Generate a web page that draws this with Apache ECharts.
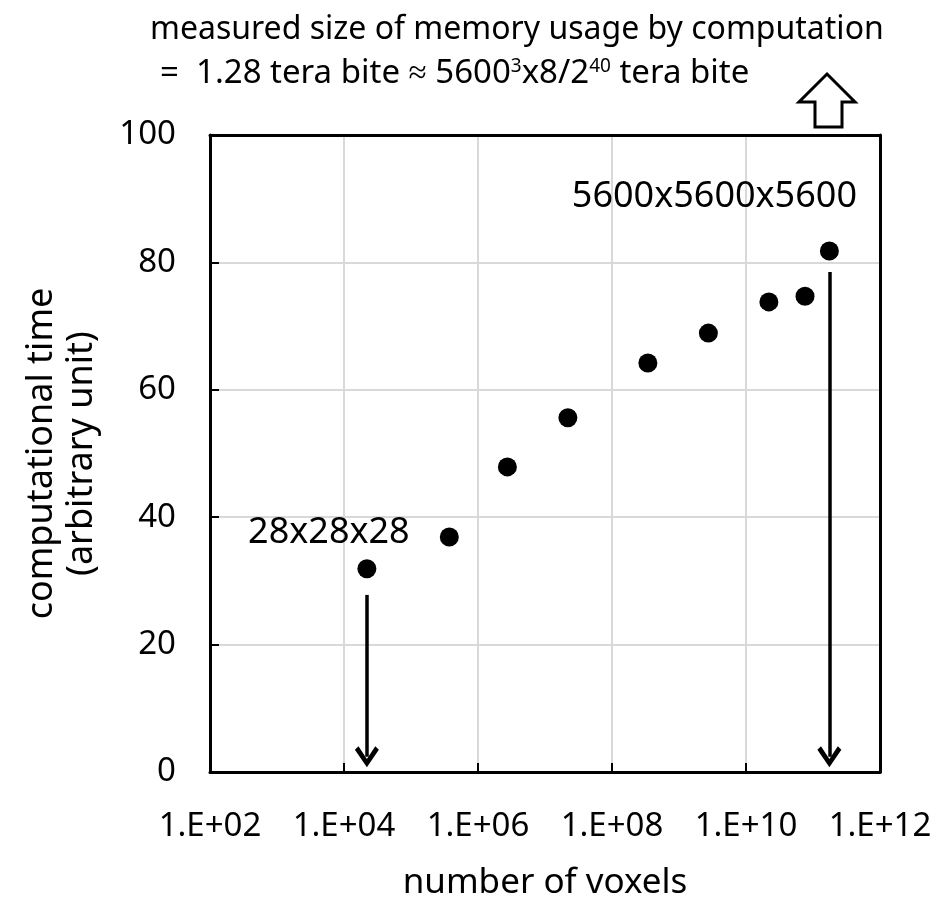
<!DOCTYPE html>
<html>
  <head>
    <meta charset="utf-8" />
    <title>ECharts</title>
    <style type="text/css">
      html, body { margin: 0; padding: 0; background: #fff; }
      #main { width: 939px; height: 914px; }
    </style>
    <script type="text/javascript" src="https://cdn.jsdelivr.net/npm/echarts@6/dist/echarts.min.js"></script>
  </head>
  <body>
    <div id="main"></div>
    <script type="text/javascript">
    // grid sizes (voxels per edge) and measured values
    var gridLabels = ['28x28x28', '', '', '', '', '', '', '', '5600x5600x5600'];
    var voxels = [21952, 373248, 2744000, 21952000, 343000000, 2744000000, 21952000000, 76000000000, 175616000000];
    var compTime = [31.9, 36.9, 47.9, 55.6, 64.2, 68.9, 73.8, 74.7, 81.8];
    var xTicks = [1e2, 1e4, 1e6, 1e8, 1e10, 1e12];
    var yTicks = [0, 20, 40, 60, 80, 100];

    var FONT = 'Noto Sans';

    var dom = document.getElementById('main');
    var myChart = echarts.init(dom);

    var points = [];
    for (var i = 0; i < voxels.length; i++) {
      points.push([voxels[i], compTime[i]]);
    }

    // open V arrowhead (tip up, markLine rotates it)
    var vHead = 'path://M10,0 L20,15 L17,18 L10,7 L3,18 L0,15 Z';

    var frameAxis = {
      show: true,
      axisLine: { onZero: false, lineStyle: { color: '#000', width: 3 } },
      axisTick: { show: false },
      axisLabel: { show: false },
      splitLine: { show: false }
    };

    var option = {
      animation: false,
      textStyle: { fontFamily: FONT },
      grid: {
        left: 210, right: 59, top: 135, bottom: 142
      },
      xAxis: [{
        type: 'log',
        logBase: 10,
        min: xTicks[0],
        max: xTicks[xTicks.length - 1],
        interval: 2,
        name: 'number of voxels',
        nameLocation: 'middle',
        nameGap: 94,
        nameTextStyle: { fontSize: 35, color: '#000' },
        axisLine: { lineStyle: { color: '#000', width: 3 } },
        axisTick: { inside: true, length: 9, lineStyle: { color: '#000', width: 2 } },
        axisLabel: {
          fontSize: 33, color: '#000', margin: 38,
          formatter: function (v) {
            var e = Math.round(Math.log10(v));
            return '1.E+' + (e < 10 ? '0' + e : e);
          }
        },
        splitLine: { show: true, lineStyle: { color: '#d9d9d9', width: 2 } },
        minorTick: { show: false }
      }, Object.assign({
        type: 'log', logBase: 10, position: 'top',
        min: xTicks[0], max: xTicks[xTicks.length - 1], interval: 2
      }, frameAxis)],
      yAxis: [{
        type: 'value',
        min: yTicks[0],
        max: yTicks[yTicks.length - 1],
        interval: 20,
        name: 'computational time\n(arbitrary unit)',
        nameLocation: 'middle',
        nameGap: 108,
        nameTextStyle: { fontSize: 36, color: '#000', lineHeight: 40 },
        axisLine: { lineStyle: { color: '#000', width: 3 } },
        axisTick: { show: true, inside: true, length: 9, lineStyle: { color: '#000', width: 2 } },
        axisLabel: { fontSize: 33, color: '#000', margin: 34 },
        splitLine: { show: true, lineStyle: { color: '#d9d9d9', width: 2 } }
      }, Object.assign({
        type: 'value', position: 'right',
        min: yTicks[0], max: yTicks[yTicks.length - 1], interval: 20
      }, frameAxis)],
      graphic: [
        {
          type: 'text', left: 150, top: 14,
          style: {
            text: 'measured size of memory usage by computation',
            font: '32px "' + FONT + '"', fill: '#000'
          }
        },
        {
          type: 'text', left: 160, top: 57,
          style: {
            text: '=  1.28 tera bite \u2248 5600{sup|3}x8/2{sup|40} tera bite',
            font: '33px "' + FONT + '"', fill: '#000',
            rich: {
              sup: { fontSize: 19, verticalAlign: 'top', fontFamily: FONT, fill: '#000', padding: [0, 0, 14, 0] }
            }
          }
        },
        {
          type: 'polygon', silent: true,
          shape: {
            points: [[827, 74], [855, 102], [842, 102], [842, 127], [815, 127], [815, 102], [799, 102]]
          },
          style: { fill: '#fff', stroke: '#000', lineWidth: 3 }
        }
      ],
      series: [
        {
          type: 'scatter',
          symbolSize: 19,
          itemStyle: { color: '#000', opacity: 1 },
          data: points,
          label: {
            show: true,
            position: 'inside',
            fontSize: 36,
            color: '#000',
            fontFamily: FONT,
            formatter: function (p) { return gridLabels[p.dataIndex]; }
          },
          labelLayout: function (p) {
            if (p.dataIndex === 0) return { dx: -38, dy: -36 };
            if (p.dataIndex === voxels.length - 1) return { dx: -115, dy: -54 };
            return {};
          },
          markLine: {
            silent: true,
            symbol: ['none', vHead],
            symbolSize: [24, 21],
            label: { show: false },
            lineStyle: { color: '#000', width: 3.5, type: 'solid' },
            data: [
              [{ coord: [voxels[0], 27.8] }, { coord: [voxels[0], 2.4] }],
              [{ coord: [voxels[8], 78.5] }, { coord: [voxels[8], 2.4] }]
            ]
          }
        }
      ]
    };

    myChart.setOption(option);
    </script>
  </body>
</html>
